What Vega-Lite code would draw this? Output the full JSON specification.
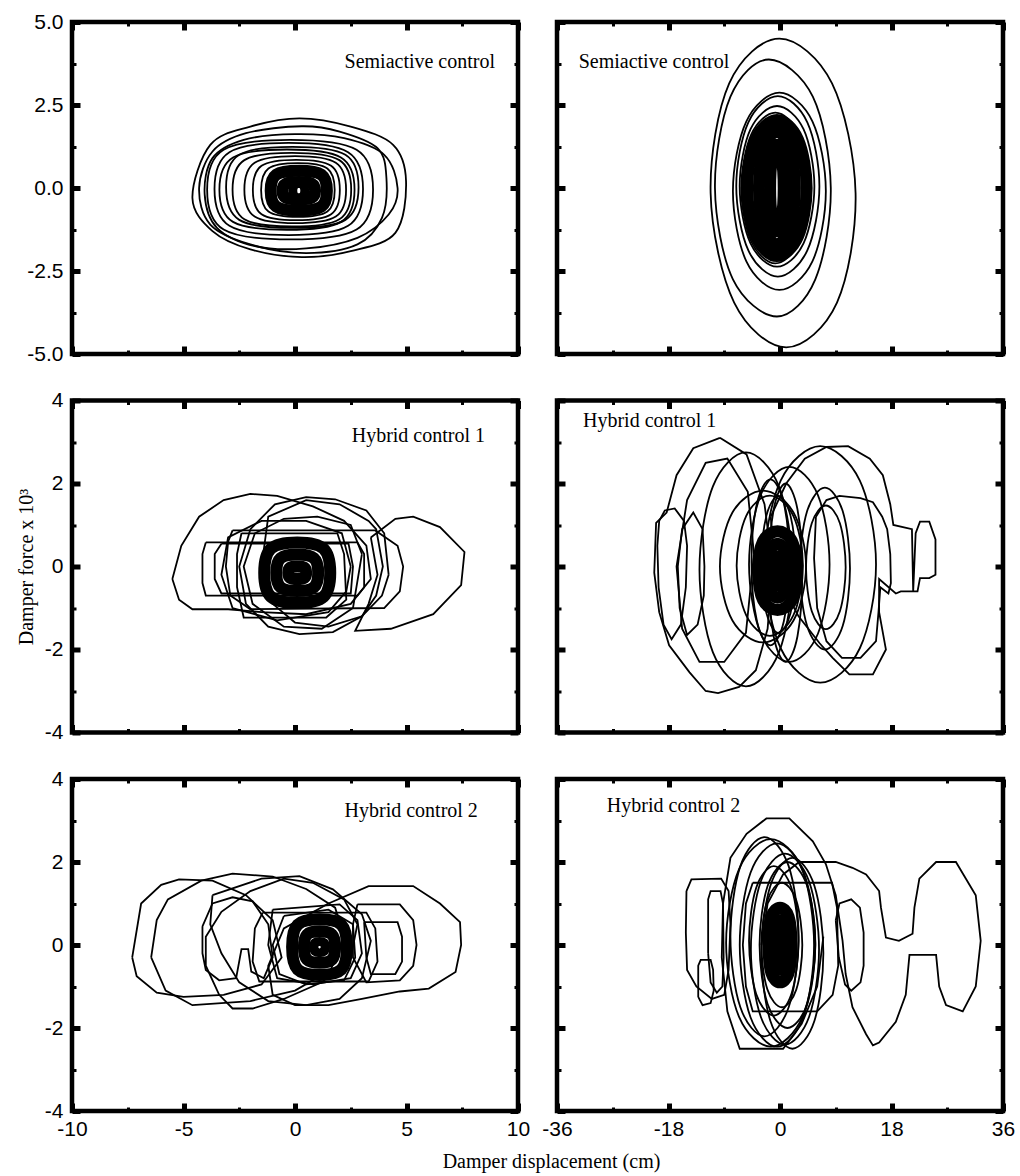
{
"$schema": "https://vega.github.io/schema/vega-lite/v6.json",
"background": "white",
"padding": {"left": 14, "top": 8, "right": 4, "bottom": 4},
"columns": 2,
"spacing": {"row": 46.5, "column": 39},
"bounds": "flush",
"datasets": {
"ell": [
{"p":"A","l":1,"i":0,"x":4.98,"y":0.2},{"p":"A","l":1,"i":1,"x":4.4,"y":1.3},{"p":"A","l":1,"i":2,"x":2.5,"y":1.85},{"p":"A","l":1,"i":3,"x":0.2,"y":2.1},{"p":"A","l":1,"i":4,"x":-2,"y":1.85},{"p":"A","l":1,"i":5,"x":-3.8,"y":1.3},{"p":"A","l":1,"i":6,"x":-4.6,"y":-0.3},{"p":"A","l":1,"i":7,"x":-3.7,"y":-1.3},{"p":"A","l":1,"i":8,"x":-2,"y":-1.85},{"p":"A","l":1,"i":9,"x":0.3,"y":-2.08},{"p":"A","l":1,"i":10,"x":2.5,"y":-1.9},{"p":"A","l":1,"i":11,"x":4.5,"y":-1.35},
{"p":"A","l":2,"i":0,"x":4.1,"y":0.3},{"p":"A","l":2,"i":1,"x":3.7,"y":1.2},{"p":"A","l":2,"i":2,"x":2,"y":1.7},{"p":"A","l":2,"i":3,"x":0.3,"y":1.86},{"p":"A","l":2,"i":4,"x":-2.2,"y":1.65},{"p":"A","l":2,"i":5,"x":-3.7,"y":1.1},{"p":"A","l":2,"i":6,"x":-4.3,"y":0},{"p":"A","l":2,"i":7,"x":-3.8,"y":-1.1},{"p":"A","l":2,"i":8,"x":-2,"y":-1.7},{"p":"A","l":2,"i":9,"x":0.5,"y":-1.96},{"p":"A","l":2,"i":10,"x":2.8,"y":-1.7},{"p":"A","l":2,"i":11,"x":3.9,"y":-0.9},
{"p":"A","l":3,"i":0,"x":4.6,"y":0},{"p":"A","l":3,"i":1,"x":4,"y":1},{"p":"A","l":3,"i":2,"x":2.2,"y":1.5},{"p":"A","l":3,"i":3,"x":0,"y":1.62},{"p":"A","l":3,"i":4,"x":-2.3,"y":1.45},{"p":"A","l":3,"i":5,"x":-3.7,"y":0.9},{"p":"A","l":3,"i":6,"x":-4.05,"y":-0.2},{"p":"A","l":3,"i":7,"x":-3.5,"y":-1.2},{"p":"A","l":3,"i":8,"x":-1.8,"y":-1.75},{"p":"A","l":3,"i":9,"x":0.5,"y":-1.82},{"p":"A","l":3,"i":10,"x":2.8,"y":-1.5},{"p":"A","l":3,"i":11,"x":4.2,"y":-0.8},
{"p":"A","l":4,"i":0,"x":3.05,"y":-0.03},{"p":"A","l":4,"i":1,"x":2.38,"y":1.08},{"p":"A","l":4,"i":2,"x":-0.28,"y":1.36},{"p":"A","l":4,"i":3,"x":-2.94,"y":1.08},{"p":"A","l":4,"i":4,"x":-3.61,"y":-0.03},{"p":"A","l":4,"i":5,"x":-2.94,"y":-1.14},{"p":"A","l":4,"i":6,"x":-0.28,"y":-1.42},{"p":"A","l":4,"i":7,"x":2.38,"y":-1.14},
{"p":"A","l":5,"i":0,"x":2.67,"y":-0.05},{"p":"A","l":5,"i":1,"x":2.06,"y":0.92},{"p":"A","l":5,"i":2,"x":-0.36,"y":1.16},{"p":"A","l":5,"i":3,"x":-2.78,"y":0.92},{"p":"A","l":5,"i":4,"x":-3.39,"y":-0.05},{"p":"A","l":5,"i":5,"x":-2.78,"y":-1.02},{"p":"A","l":5,"i":6,"x":-0.36,"y":-1.26},{"p":"A","l":5,"i":7,"x":2.06,"y":-1.02},
{"p":"A","l":6,"i":0,"x":2.52,"y":-0.05},{"p":"A","l":6,"i":1,"x":1.99,"y":0.84},{"p":"A","l":6,"i":2,"x":-0.14,"y":1.06},{"p":"A","l":6,"i":3,"x":-2.27,"y":0.84},{"p":"A","l":6,"i":4,"x":-2.8,"y":-0.05},{"p":"A","l":6,"i":5,"x":-2.27,"y":-0.94},{"p":"A","l":6,"i":6,"x":-0.14,"y":-1.16},{"p":"A","l":6,"i":7,"x":1.99,"y":-0.94},
{"p":"A","l":7,"i":0,"x":2.29,"y":-0.05},{"p":"A","l":7,"i":1,"x":1.83,"y":0.76},{"p":"A","l":7,"i":2,"x":0.01,"y":0.96},{"p":"A","l":7,"i":3,"x":-1.81,"y":0.76},{"p":"A","l":7,"i":4,"x":-2.27,"y":-0.05},{"p":"A","l":7,"i":5,"x":-1.81,"y":-0.86},{"p":"A","l":7,"i":6,"x":0.01,"y":-1.06},{"p":"A","l":7,"i":7,"x":1.83,"y":-0.86},
{"p":"A","l":8,"i":0,"x":2.01,"y":-0.06},{"p":"A","l":8,"i":1,"x":1.62,"y":0.67},{"p":"A","l":8,"i":2,"x":0.06,"y":0.85},{"p":"A","l":8,"i":3,"x":-1.5,"y":0.67},{"p":"A","l":8,"i":4,"x":-1.89,"y":-0.06},{"p":"A","l":8,"i":5,"x":-1.5,"y":-0.79},{"p":"A","l":8,"i":6,"x":0.06,"y":-0.97},{"p":"A","l":8,"i":7,"x":1.62,"y":-0.79},
{"p":"A","l":9,"i":0,"x":1.78,"y":-0.06},{"p":"A","l":9,"i":1,"x":1.45,"y":0.59},{"p":"A","l":9,"i":2,"x":0.13,"y":0.75},{"p":"A","l":9,"i":3,"x":-1.19,"y":0.59},{"p":"A","l":9,"i":4,"x":-1.52,"y":-0.06},{"p":"A","l":9,"i":5,"x":-1.19,"y":-0.71},{"p":"A","l":9,"i":6,"x":0.13,"y":-0.87},{"p":"A","l":9,"i":7,"x":1.45,"y":-0.71},
{"p":"A","l":10,"i":0,"x":3.5,"y":-0.05},{"p":"A","l":10,"i":1,"x":2.76,"y":1.15},{"p":"A","l":10,"i":2,"x":-0.22,"y":1.45},{"p":"A","l":10,"i":3,"x":-3.2,"y":1.15},{"p":"A","l":10,"i":4,"x":-3.94,"y":-0.05},{"p":"A","l":10,"i":5,"x":-3.2,"y":-1.25},{"p":"A","l":10,"i":6,"x":-0.22,"y":-1.55},{"p":"A","l":10,"i":7,"x":2.76,"y":-1.25},
{"p":"A","l":11,"i":0,"x":2.85,"y":0.02},{"p":"A","l":11,"i":1,"x":2.26,"y":1},{"p":"A","l":11,"i":2,"x":-0.12,"y":1.24},{"p":"A","l":11,"i":3,"x":-2.5,"y":1},{"p":"A","l":11,"i":4,"x":-3.09,"y":0.02},{"p":"A","l":11,"i":5,"x":-2.5,"y":-0.96},{"p":"A","l":11,"i":6,"x":-0.12,"y":-1.2},{"p":"A","l":11,"i":7,"x":2.26,"y":-0.96},
{"p":"B","l":1,"i":0,"x":12.2,"y":-0.15},{"p":"B","l":1,"i":1,"x":8.4,"y":3.15},{"p":"B","l":1,"i":2,"x":-0.1,"y":4.5},{"p":"B","l":1,"i":3,"x":-8.2,"y":3.15},{"p":"B","l":1,"i":4,"x":-11.2,"y":-0.15},{"p":"B","l":1,"i":5,"x":-7.4,"y":-3.45},{"p":"B","l":1,"i":6,"x":1,"y":-4.8},{"p":"B","l":1,"i":7,"x":9.2,"y":-3.45},
{"p":"B","l":2,"i":0,"x":8.2,"y":0},{"p":"B","l":2,"i":1,"x":5.3,"y":2.75},{"p":"B","l":2,"i":2,"x":-1.8,"y":3.87},{"p":"B","l":2,"i":3,"x":-8.0,"y":2.75},{"p":"B","l":2,"i":4,"x":-10.5,"y":0},{"p":"B","l":2,"i":5,"x":-7.6,"y":-2.75},{"p":"B","l":2,"i":6,"x":-0.5,"y":-3.87},{"p":"B","l":2,"i":7,"x":5.7,"y":-2.75},
{"p":"B","l":3,"i":0,"x":7.4,"y":-0.1},{"p":"B","l":3,"i":1,"x":5.23,"y":2.01},{"p":"B","l":3,"i":2,"x":-0.1,"y":2.87},{"p":"B","l":3,"i":3,"x":-5.43,"y":2.01},{"p":"B","l":3,"i":4,"x":-7.6,"y":-0.1},{"p":"B","l":3,"i":5,"x":-5.43,"y":-2.21},{"p":"B","l":3,"i":6,"x":-0.1,"y":-3.07},{"p":"B","l":3,"i":7,"x":5.23,"y":-2.21},
{"p":"B","l":4,"i":0,"x":6.36,"y":0.05},{"p":"B","l":4,"i":1,"x":4.41,"y":1.98},{"p":"B","l":4,"i":2,"x":-0.35,"y":2.77},{"p":"B","l":4,"i":3,"x":-5.11,"y":1.98},{"p":"B","l":4,"i":4,"x":-7.06,"y":0.05},{"p":"B","l":4,"i":5,"x":-5.11,"y":-1.88},{"p":"B","l":4,"i":6,"x":-0.35,"y":-2.67},{"p":"B","l":4,"i":7,"x":4.41,"y":-1.88},
{"p":"B","l":5,"i":0,"x":5.55,"y":0.05},{"p":"B","l":5,"i":1,"x":3.8,"y":1.77},{"p":"B","l":5,"i":2,"x":-0.48,"y":2.47},{"p":"B","l":5,"i":3,"x":-4.76,"y":1.77},{"p":"B","l":5,"i":4,"x":-6.51,"y":0.05},{"p":"B","l":5,"i":5,"x":-4.76,"y":-1.67},{"p":"B","l":5,"i":6,"x":-0.48,"y":-2.37},{"p":"B","l":5,"i":7,"x":3.8,"y":-1.67},
{"p":"B","l":6,"i":0,"x":4.75,"y":0},{"p":"B","l":6,"i":1,"x":3.15,"y":1.61},{"p":"B","l":6,"i":2,"x":-0.75,"y":2.27},{"p":"B","l":6,"i":3,"x":-4.65,"y":1.61},{"p":"B","l":6,"i":4,"x":-6.25,"y":0},{"p":"B","l":6,"i":5,"x":-4.65,"y":-1.61},{"p":"B","l":6,"i":6,"x":-0.75,"y":-2.27},{"p":"B","l":6,"i":7,"x":3.15,"y":-1.61},
{"p":"D","l":5,"i":0,"x":4.2,"y":0},{"p":"D","l":5,"i":1,"x":2.18,"y":1.3},{"p":"D","l":5,"i":2,"x":-2.75,"y":1.83},{"p":"D","l":5,"i":3,"x":-7.68,"y":1.3},{"p":"D","l":5,"i":4,"x":-9.7,"y":0},{"p":"D","l":5,"i":5,"x":-7.68,"y":-1.3},{"p":"D","l":5,"i":6,"x":-2.75,"y":-1.83},{"p":"D","l":5,"i":7,"x":2.18,"y":-1.3},
{"p":"D","l":6,"i":0,"x":3.7,"y":0.02},{"p":"D","l":6,"i":1,"x":2.15,"y":1.22},{"p":"D","l":6,"i":2,"x":-1.65,"y":1.71},{"p":"D","l":6,"i":3,"x":-5.45,"y":1.22},{"p":"D","l":6,"i":4,"x":-7,"y":0.02},{"p":"D","l":6,"i":5,"x":-5.45,"y":-1.18},{"p":"D","l":6,"i":6,"x":-1.65,"y":-1.67},{"p":"D","l":6,"i":7,"x":2.15,"y":-1.18},
{"p":"D","l":7,"i":0,"x":2.5,"y":0.05},{"p":"D","l":7,"i":1,"x":1.7,"y":1.22},{"p":"D","l":7,"i":2,"x":-0.25,"y":1.7},{"p":"D","l":7,"i":3,"x":-2.2,"y":1.22},{"p":"D","l":7,"i":4,"x":-3,"y":0.05},{"p":"D","l":7,"i":5,"x":-2.2,"y":-1.12},{"p":"D","l":7,"i":6,"x":-0.25,"y":-1.6},{"p":"D","l":7,"i":7,"x":1.7,"y":-1.12},
{"p":"D","l":8,"i":0,"x":1.5,"y":0.1},{"p":"D","l":8,"i":1,"x":0.62,"y":1.52},{"p":"D","l":8,"i":2,"x":-1.55,"y":2.1},{"p":"D","l":8,"i":3,"x":-3.72,"y":1.52},{"p":"D","l":8,"i":4,"x":-4.6,"y":0.1},{"p":"D","l":8,"i":5,"x":-3.72,"y":-1.32},{"p":"D","l":8,"i":6,"x":-1.55,"y":-1.9},{"p":"D","l":8,"i":7,"x":0.62,"y":-1.32},
{"p":"D","l":9,"i":0,"x":3.6,"y":-0.15},{"p":"D","l":9,"i":1,"x":2.82,"y":1.38},{"p":"D","l":9,"i":2,"x":0.9,"y":2},{"p":"D","l":9,"i":3,"x":-1.02,"y":1.38},{"p":"D","l":9,"i":4,"x":-1.8,"y":-0.15},{"p":"D","l":9,"i":5,"x":-1.02,"y":-1.68},{"p":"D","l":9,"i":6,"x":0.9,"y":-2.3},{"p":"D","l":9,"i":7,"x":2.82,"y":-1.68},
{"p":"D","l":10,"i":0,"x":10.6,"y":-0.02},{"p":"D","l":10,"i":1,"x":9.67,"y":1.04},{"p":"D","l":10,"i":2,"x":7.4,"y":1.47},{"p":"D","l":10,"i":3,"x":5.13,"y":1.04},{"p":"D","l":10,"i":4,"x":4.2,"y":-0.02},{"p":"D","l":10,"i":5,"x":5.13,"y":-1.08},{"p":"D","l":10,"i":6,"x":7.4,"y":-1.51},{"p":"D","l":10,"i":7,"x":9.67,"y":-1.08},
{"p":"D","l":11,"i":0,"x":11.3,"y":-0.05},{"p":"D","l":11,"i":1,"x":10.13,"y":1.33},{"p":"D","l":11,"i":2,"x":7.25,"y":1.9},{"p":"D","l":11,"i":3,"x":4.37,"y":1.33},{"p":"D","l":11,"i":4,"x":3.2,"y":-0.05},{"p":"D","l":11,"i":5,"x":4.37,"y":-1.43},{"p":"D","l":11,"i":6,"x":7.25,"y":-2},{"p":"D","l":11,"i":7,"x":10.13,"y":-1.43},
{"p":"D","l":12,"i":0,"x":2,"y":-0.07},{"p":"D","l":12,"i":1,"x":-0.17,"y":1.93},{"p":"D","l":12,"i":2,"x":-5.5,"y":2.75},{"p":"D","l":12,"i":3,"x":-10.83,"y":1.93},{"p":"D","l":12,"i":4,"x":-13,"y":-0.07},{"p":"D","l":12,"i":5,"x":-10.83,"y":-2.07},{"p":"D","l":12,"i":6,"x":-5.5,"y":-2.89},{"p":"D","l":12,"i":7,"x":-0.17,"y":-2.07},
{"p":"D","l":13,"i":0,"x":15.5,"y":0.05},{"p":"D","l":13,"i":1,"x":12.89,"y":2.07},{"p":"D","l":13,"i":2,"x":6.5,"y":2.9},{"p":"D","l":13,"i":3,"x":0.11,"y":2.07},{"p":"D","l":13,"i":4,"x":-2.5,"y":0.05},{"p":"D","l":13,"i":5,"x":0.11,"y":-1.97},{"p":"D","l":13,"i":6,"x":6.5,"y":-2.8},{"p":"D","l":13,"i":7,"x":12.89,"y":-1.97},
{"p":"D","l":14,"i":0,"x":8,"y":0.05},{"p":"D","l":14,"i":1,"x":6.12,"y":1.72},{"p":"D","l":14,"i":2,"x":1.5,"y":2.4},{"p":"D","l":14,"i":3,"x":-3.12,"y":1.72},{"p":"D","l":14,"i":4,"x":-5,"y":0.05},{"p":"D","l":14,"i":5,"x":-3.12,"y":-1.62},{"p":"D","l":14,"i":6,"x":1.5,"y":-2.3},{"p":"D","l":14,"i":7,"x":6.12,"y":-1.62},
{"p":"F","l":1,"i":0,"x":5.7,"y":0.05},{"p":"F","l":1,"i":1,"x":3.61,"y":1.83},{"p":"F","l":1,"i":2,"x":-1.5,"y":2.55},{"p":"F","l":1,"i":3,"x":-6.61,"y":1.83},{"p":"F","l":1,"i":4,"x":-8.7,"y":0.05},{"p":"F","l":1,"i":5,"x":-6.61,"y":-1.73},{"p":"F","l":1,"i":6,"x":-1.5,"y":-2.45},{"p":"F","l":1,"i":7,"x":3.61,"y":-1.73},
{"p":"F","l":2,"i":0,"x":5.5,"y":0},{"p":"F","l":2,"i":1,"x":3.76,"y":1.74},{"p":"F","l":2,"i":2,"x":-0.5,"y":2.45},{"p":"F","l":2,"i":3,"x":-4.76,"y":1.74},{"p":"F","l":2,"i":4,"x":-6.5,"y":0},{"p":"F","l":2,"i":5,"x":-4.76,"y":-1.74},{"p":"F","l":2,"i":6,"x":-0.5,"y":-2.45},{"p":"F","l":2,"i":7,"x":3.76,"y":-1.74},
{"p":"F","l":3,"i":0,"x":6.3,"y":-0.1},{"p":"F","l":3,"i":1,"x":4.7,"y":1.53},{"p":"F","l":3,"i":2,"x":0.8,"y":2.2},{"p":"F","l":3,"i":3,"x":-3.1,"y":1.53},{"p":"F","l":3,"i":4,"x":-4.7,"y":-0.1},{"p":"F","l":3,"i":5,"x":-3.1,"y":-1.73},{"p":"F","l":3,"i":6,"x":0.8,"y":-2.4},{"p":"F","l":3,"i":7,"x":4.7,"y":-1.73},
{"p":"F","l":4,"i":0,"x":5.7,"y":0},{"p":"F","l":4,"i":1,"x":4.4,"y":1.42},{"p":"F","l":4,"i":2,"x":1.2,"y":2},{"p":"F","l":4,"i":3,"x":-2,"y":1.42},{"p":"F","l":4,"i":4,"x":-3.3,"y":0},{"p":"F","l":4,"i":5,"x":-2,"y":-1.42},{"p":"F","l":4,"i":6,"x":1.2,"y":-2},{"p":"F","l":4,"i":7,"x":4.4,"y":-1.42},
{"p":"F","l":5,"i":0,"x":3,"y":0.1},{"p":"F","l":5,"i":1,"x":1.84,"y":1.38},{"p":"F","l":5,"i":2,"x":-1,"y":1.9},{"p":"F","l":5,"i":3,"x":-3.84,"y":1.38},{"p":"F","l":5,"i":4,"x":-5,"y":0.1},{"p":"F","l":5,"i":5,"x":-3.84,"y":-1.18},{"p":"F","l":5,"i":6,"x":-1,"y":-1.7},{"p":"F","l":5,"i":7,"x":1.84,"y":-1.18},
{"p":"F","l":6,"i":0,"x":3.6,"y":0},{"p":"F","l":6,"i":1,"x":2.64,"y":1.07},{"p":"F","l":6,"i":2,"x":0.3,"y":1.5},{"p":"F","l":6,"i":3,"x":-2.04,"y":1.07},{"p":"F","l":6,"i":4,"x":-3,"y":0},{"p":"F","l":6,"i":5,"x":-2.04,"y":-1.07},{"p":"F","l":6,"i":6,"x":0.3,"y":-1.5},{"p":"F","l":6,"i":7,"x":2.64,"y":-1.07},
{"p":"F","l":7,"i":0,"x":7,"y":-0.2},{"p":"F","l":7,"i":1,"x":5.55,"y":1.43},{"p":"F","l":7,"i":2,"x":2,"y":2.1},{"p":"F","l":7,"i":3,"x":-1.55,"y":1.43},{"p":"F","l":7,"i":4,"x":-3,"y":-0.2},{"p":"F","l":7,"i":5,"x":-1.55,"y":-1.83},{"p":"F","l":7,"i":6,"x":2,"y":-2.5},{"p":"F","l":7,"i":7,"x":5.55,"y":-1.83},
{"p":"F","l":8,"i":0,"x":3,"y":0.2},{"p":"F","l":8,"i":1,"x":1.4,"y":1.9},{"p":"F","l":8,"i":2,"x":-2.5,"y":2.6},{"p":"F","l":8,"i":3,"x":-6.4,"y":1.9},{"p":"F","l":8,"i":4,"x":-8,"y":0.2},{"p":"F","l":8,"i":5,"x":-6.4,"y":-1.5},{"p":"F","l":8,"i":6,"x":-2.5,"y":-2.2},{"p":"F","l":8,"i":7,"x":1.4,"y":-1.5}
],
"poly": [
{"p":"C","l":1,"i":0,"x":-5.5,"y":-0.3},{"p":"C","l":1,"i":1,"x":-5.1,"y":0.5},{"p":"C","l":1,"i":2,"x":-4.3,"y":1.2},{"p":"C","l":1,"i":3,"x":-3.2,"y":1.6},{"p":"C","l":1,"i":4,"x":-2,"y":1.75},{"p":"C","l":1,"i":5,"x":-0.8,"y":1.7},{"p":"C","l":1,"i":6,"x":0.8,"y":1.45},{"p":"C","l":1,"i":7,"x":2.2,"y":1.1},{"p":"C","l":1,"i":8,"x":3.2,"y":0.5},{"p":"C","l":1,"i":9,"x":3.4,"y":-0.3},{"p":"C","l":1,"i":10,"x":2.5,"y":-0.9},{"p":"C","l":1,"i":11,"x":0.5,"y":-1.15},{"p":"C","l":1,"i":12,"x":-1.5,"y":-1.1},{"p":"C","l":1,"i":13,"x":-3,"y":-1.03},{"p":"C","l":1,"i":14,"x":-4.6,"y":-1.03},{"p":"C","l":1,"i":15,"x":-5.2,"y":-0.8},{"p":"C","l":1,"i":16,"x":-5.5,"y":-0.3},
{"p":"C","l":2,"i":0,"x":4.2,"y":-0.2},{"p":"C","l":2,"i":1,"x":4,"y":0.8},{"p":"C","l":2,"i":2,"x":3.2,"y":1.35},{"p":"C","l":2,"i":3,"x":1.8,"y":1.62},{"p":"C","l":2,"i":4,"x":0.5,"y":1.67},{"p":"C","l":2,"i":5,"x":-0.9,"y":1.5},{"p":"C","l":2,"i":6,"x":-2,"y":0.9},{"p":"C","l":2,"i":7,"x":-2.5,"y":0},{"p":"C","l":2,"i":8,"x":-2.2,"y":-0.9},{"p":"C","l":2,"i":9,"x":-1.2,"y":-1.45},{"p":"C","l":2,"i":10,"x":0.2,"y":-1.63},{"p":"C","l":2,"i":11,"x":1.7,"y":-1.58},{"p":"C","l":2,"i":12,"x":3,"y":-1.2},{"p":"C","l":2,"i":13,"x":3.9,"y":-0.7},{"p":"C","l":2,"i":14,"x":4.2,"y":-0.2},
{"p":"C","l":3,"i":0,"x":-1.5,"y":0},{"p":"C","l":3,"i":1,"x":-1.2,"y":1.2},{"p":"C","l":3,"i":2,"x":0.5,"y":1.6},{"p":"C","l":3,"i":3,"x":2,"y":1.5},{"p":"C","l":3,"i":4,"x":3.3,"y":1.1},{"p":"C","l":3,"i":5,"x":3.64,"y":0.9},{"p":"C","l":3,"i":6,"x":3.94,"y":0},{"p":"C","l":3,"i":7,"x":3.64,"y":-0.7},{"p":"C","l":3,"i":8,"x":3,"y":-1.2},{"p":"C","l":3,"i":9,"x":1.5,"y":-1.45},{"p":"C","l":3,"i":10,"x":0,"y":-1.35},{"p":"C","l":3,"i":11,"x":-1,"y":-0.9},{"p":"C","l":3,"i":12,"x":-1.5,"y":0},
{"p":"C","l":4,"i":0,"x":3.4,"y":0.7},{"p":"C","l":4,"i":1,"x":4.5,"y":1.15},{"p":"C","l":4,"i":2,"x":5.3,"y":1.2},{"p":"C","l":4,"i":3,"x":6.5,"y":0.95},{"p":"C","l":4,"i":4,"x":7.6,"y":0.35},{"p":"C","l":4,"i":5,"x":7.45,"y":-0.45},{"p":"C","l":4,"i":6,"x":6.2,"y":-1.15},{"p":"C","l":4,"i":7,"x":4.3,"y":-1.5},{"p":"C","l":4,"i":8,"x":2.7,"y":-1.55},{"p":"C","l":4,"i":9,"x":3.3,"y":-0.9},{"p":"C","l":4,"i":10,"x":3.7,"y":-0.2},{"p":"C","l":4,"i":11,"x":3.4,"y":0.7},
{"p":"C","l":5,"i":0,"x":-4,"y":0.58},{"p":"C","l":5,"i":1,"x":2.8,"y":0.58},{"p":"C","l":5,"i":2,"x":3.1,"y":0.3},{"p":"C","l":5,"i":3,"x":3.1,"y":-0.5},{"p":"C","l":5,"i":4,"x":2.8,"y":-0.7},{"p":"C","l":5,"i":5,"x":-4,"y":-0.7},{"p":"C","l":5,"i":6,"x":-4.15,"y":-0.4},{"p":"C","l":5,"i":7,"x":-4.15,"y":0.3},{"p":"C","l":5,"i":8,"x":-4,"y":0.58},
{"p":"C","l":6,"i":0,"x":-2.8,"y":0.87},{"p":"C","l":6,"i":1,"x":3.6,"y":0.87},{"p":"C","l":6,"i":2,"x":4.6,"y":0.5},{"p":"C","l":6,"i":3,"x":4.85,"y":0},{"p":"C","l":6,"i":4,"x":4.7,"y":-0.6},{"p":"C","l":6,"i":5,"x":4,"y":-1},{"p":"C","l":6,"i":6,"x":-2,"y":-1.03},{"p":"C","l":6,"i":7,"x":-2.9,"y":-0.7},{"p":"C","l":6,"i":8,"x":-3.1,"y":0},{"p":"C","l":6,"i":9,"x":-3,"y":0.6},{"p":"C","l":6,"i":10,"x":-2.8,"y":0.87},
{"p":"C","l":7,"i":0,"x":-3.3,"y":0.55},{"p":"C","l":7,"i":1,"x":2.4,"y":0.55},{"p":"C","l":7,"i":2,"x":2.6,"y":0},{"p":"C","l":7,"i":3,"x":2.5,"y":-0.65},{"p":"C","l":7,"i":4,"x":-3.3,"y":-0.65},{"p":"C","l":7,"i":5,"x":-3.6,"y":-0.3},{"p":"C","l":7,"i":6,"x":-3.6,"y":0.3},{"p":"C","l":7,"i":7,"x":-3.3,"y":0.55},
{"p":"C","l":8,"i":0,"x":-2.4,"y":0.8},{"p":"C","l":8,"i":1,"x":1.9,"y":0.8},{"p":"C","l":8,"i":2,"x":2.2,"y":0.3},{"p":"C","l":8,"i":3,"x":2.3,"y":-0.8},{"p":"C","l":8,"i":4,"x":1.4,"y":-1.23},{"p":"C","l":8,"i":5,"x":-2.3,"y":-1.23},{"p":"C","l":8,"i":6,"x":-2.6,"y":-0.5},{"p":"C","l":8,"i":7,"x":-2.6,"y":0.3},{"p":"C","l":8,"i":8,"x":-2.4,"y":0.8},
{"p":"C","l":9,"i":0,"x":2.5,"y":0},{"p":"C","l":9,"i":1,"x":2.1,"y":0.8},{"p":"C","l":9,"i":2,"x":0.5,"y":1.1},{"p":"C","l":9,"i":3,"x":-1.5,"y":1.1},{"p":"C","l":9,"i":4,"x":-3,"y":0.7},{"p":"C","l":9,"i":5,"x":-3.3,"y":-0.2},{"p":"C","l":9,"i":6,"x":-2.8,"y":-1},{"p":"C","l":9,"i":7,"x":-0.8,"y":-1.3},{"p":"C","l":9,"i":8,"x":1.5,"y":-1.1},{"p":"C","l":9,"i":9,"x":2.3,"y":-0.6},{"p":"C","l":9,"i":10,"x":2.5,"y":0},
{"p":"C","l":10,"i":0,"x":3,"y":0.3},{"p":"C","l":10,"i":1,"x":2.5,"y":1},{"p":"C","l":10,"i":2,"x":1,"y":1.2},{"p":"C","l":10,"i":3,"x":-0.5,"y":1.15},{"p":"C","l":10,"i":4,"x":-1.8,"y":0.8},{"p":"C","l":10,"i":5,"x":-2.3,"y":0},{"p":"C","l":10,"i":6,"x":-1.9,"y":-0.9},{"p":"C","l":10,"i":7,"x":-0.5,"y":-1.45},{"p":"C","l":10,"i":8,"x":1.2,"y":-1.5},{"p":"C","l":10,"i":9,"x":2.6,"y":-1},{"p":"C","l":10,"i":10,"x":3,"y":0.3},
{"p":"D","l":1,"i":0,"x":-9.7,"y":3.1},{"p":"D","l":1,"i":1,"x":-14,"y":2.85},{"p":"D","l":1,"i":2,"x":-16.7,"y":2.2},{"p":"D","l":1,"i":3,"x":-18.3,"y":1.3},{"p":"D","l":1,"i":4,"x":-20,"y":1.05},{"p":"D","l":1,"i":5,"x":-20.3,"y":-0.15},{"p":"D","l":1,"i":6,"x":-19.5,"y":-1.1},{"p":"D","l":1,"i":7,"x":-17.9,"y":-1.9},{"p":"D","l":1,"i":8,"x":-14.6,"y":-2.55},{"p":"D","l":1,"i":9,"x":-12,"y":-3},{"p":"D","l":1,"i":10,"x":-10,"y":-3.05},{"p":"D","l":1,"i":11,"x":-6.6,"y":-2.9},{"p":"D","l":1,"i":12,"x":-3.9,"y":-2.5},{"p":"D","l":1,"i":13,"x":-2,"y":-1.5},{"p":"D","l":1,"i":14,"x":-1.2,"y":0},{"p":"D","l":1,"i":15,"x":-2.5,"y":1.5},{"p":"D","l":1,"i":16,"x":-5.4,"y":2.7},{"p":"D","l":1,"i":17,"x":-9.7,"y":3.1},
{"p":"D","l":2,"i":0,"x":-4.2,"y":0.3},{"p":"D","l":2,"i":1,"x":-5.2,"y":1.8},{"p":"D","l":2,"i":2,"x":-8.5,"y":2.6},{"p":"D","l":2,"i":3,"x":-12,"y":2.5},{"p":"D","l":2,"i":4,"x":-15,"y":1.6},{"p":"D","l":2,"i":5,"x":-16.7,"y":0},{"p":"D","l":2,"i":6,"x":-15.8,"y":-1.5},{"p":"D","l":2,"i":7,"x":-13,"y":-2.3},{"p":"D","l":2,"i":8,"x":-9,"y":-2.3},{"p":"D","l":2,"i":9,"x":-5.5,"y":-1.6},{"p":"D","l":2,"i":10,"x":-4.2,"y":0.3},
{"p":"D","l":3,"i":0,"x":-19.5,"y":1.1},{"p":"D","l":3,"i":1,"x":-18.6,"y":1.35},{"p":"D","l":3,"i":2,"x":-17,"y":1.4},{"p":"D","l":3,"i":3,"x":-15.5,"y":1.1},{"p":"D","l":3,"i":4,"x":-15,"y":0.5},{"p":"D","l":3,"i":5,"x":-15.2,"y":-0.5},{"p":"D","l":3,"i":6,"x":-16,"y":-1.4},{"p":"D","l":3,"i":7,"x":-17.5,"y":-1.75},{"p":"D","l":3,"i":8,"x":-18.8,"y":-1.4},{"p":"D","l":3,"i":9,"x":-19.6,"y":-0.5},{"p":"D","l":3,"i":10,"x":-19.8,"y":0.5},{"p":"D","l":3,"i":11,"x":-19.5,"y":1.1},
{"p":"D","l":4,"i":0,"x":-12.2,"y":0},{"p":"D","l":4,"i":1,"x":-12.5,"y":0.9},{"p":"D","l":4,"i":2,"x":-14,"y":1.3},{"p":"D","l":4,"i":3,"x":-15.8,"y":0.9},{"p":"D","l":4,"i":4,"x":-16.5,"y":0},{"p":"D","l":4,"i":5,"x":-16.2,"y":-1},{"p":"D","l":4,"i":6,"x":-15,"y":-1.65},{"p":"D","l":4,"i":7,"x":-13.3,"y":-1.4},{"p":"D","l":4,"i":8,"x":-12.3,"y":-0.7},{"p":"D","l":4,"i":9,"x":-12.2,"y":0},
{"p":"D","l":5,"i":0,"x":-1.5,"y":1.2},{"p":"D","l":5,"i":1,"x":1,"y":2},{"p":"D","l":5,"i":2,"x":4,"y":2.6},{"p":"D","l":5,"i":3,"x":7.5,"y":2.88},{"p":"D","l":5,"i":4,"x":11,"y":2.9},{"p":"D","l":5,"i":5,"x":14.5,"y":2.6},{"p":"D","l":5,"i":6,"x":16.6,"y":2.2},{"p":"D","l":5,"i":7,"x":17.8,"y":1.5},{"p":"D","l":5,"i":8,"x":18.3,"y":1},{"p":"D","l":5,"i":9,"x":21.3,"y":0.9},{"p":"D","l":5,"i":10,"x":21.5,"y":-0.6},{"p":"D","l":5,"i":11,"x":21.9,"y":0.8},{"p":"D","l":5,"i":12,"x":22.6,"y":1.08},{"p":"D","l":5,"i":13,"x":24.1,"y":1.08},{"p":"D","l":5,"i":14,"x":25.1,"y":0.65},{"p":"D","l":5,"i":15,"x":25.1,"y":-0.2},{"p":"D","l":5,"i":16,"x":24.1,"y":-0.28},{"p":"D","l":5,"i":17,"x":22.6,"y":-0.28},{"p":"D","l":5,"i":18,"x":22.2,"y":-0.6},{"p":"D","l":5,"i":19,"x":19.5,"y":-0.6},{"p":"D","l":5,"i":20,"x":18.7,"y":-0.65},{"p":"D","l":5,"i":21,"x":16,"y":-0.3},{"p":"D","l":5,"i":22,"x":16,"y":-1.1},{"p":"D","l":5,"i":23,"x":17.1,"y":-2},{"p":"D","l":5,"i":24,"x":15,"y":-2.6},{"p":"D","l":5,"i":25,"x":11.2,"y":-2.6},{"p":"D","l":5,"i":26,"x":8.5,"y":-2.2},{"p":"D","l":5,"i":27,"x":6.4,"y":-1.85},{"p":"D","l":5,"i":28,"x":3,"y":-1.2},{"p":"D","l":5,"i":29,"x":0.5,"y":-0.5},{"p":"D","l":5,"i":30,"x":-1,"y":0.3},{"p":"D","l":5,"i":31,"x":-1.5,"y":1.2},
{"p":"D","l":6,"i":0,"x":5.8,"y":1.2},{"p":"D","l":6,"i":1,"x":7.5,"y":1.6},{"p":"D","l":6,"i":2,"x":9.6,"y":1.7},{"p":"D","l":6,"i":3,"x":13,"y":1.65},{"p":"D","l":6,"i":4,"x":15,"y":1.55},{"p":"D","l":6,"i":5,"x":16.5,"y":1.2},{"p":"D","l":6,"i":6,"x":17.3,"y":0.9},{"p":"D","l":6,"i":7,"x":17.8,"y":0.3},{"p":"D","l":6,"i":8,"x":17.9,"y":-0.4},{"p":"D","l":6,"i":9,"x":17.5,"y":-0.65},{"p":"D","l":6,"i":10,"x":16.2,"y":-0.5},{"p":"D","l":6,"i":11,"x":15.9,"y":-1.1},{"p":"D","l":6,"i":12,"x":15.5,"y":-1.8},{"p":"D","l":6,"i":13,"x":13,"y":-2.2},{"p":"D","l":6,"i":14,"x":10,"y":-2.2},{"p":"D","l":6,"i":15,"x":7.5,"y":-1.8},{"p":"D","l":6,"i":16,"x":6,"y":-1},{"p":"D","l":6,"i":17,"x":5.5,"y":0.2},{"p":"D","l":6,"i":18,"x":5.8,"y":1.2},
{"p":"E","l":1,"i":0,"x":-7.3,"y":-0.3},{"p":"E","l":1,"i":1,"x":-6.9,"y":1},{"p":"E","l":1,"i":2,"x":-6,"y":1.45},{"p":"E","l":1,"i":3,"x":-5.2,"y":1.58},{"p":"E","l":1,"i":4,"x":-3.7,"y":1.55},{"p":"E","l":1,"i":5,"x":-2.2,"y":1.2},{"p":"E","l":1,"i":6,"x":-1,"y":0.6},{"p":"E","l":1,"i":7,"x":-0.6,"y":-0.3},{"p":"E","l":1,"i":8,"x":-1.5,"y":-0.95},{"p":"E","l":1,"i":9,"x":-3.2,"y":-1.2},{"p":"E","l":1,"i":10,"x":-5,"y":-1.25},{"p":"E","l":1,"i":11,"x":-6.2,"y":-1.15},{"p":"E","l":1,"i":12,"x":-7.1,"y":-0.75},{"p":"E","l":1,"i":13,"x":-7.3,"y":-0.3},
{"p":"E","l":2,"i":0,"x":-6.45,"y":-0.3},{"p":"E","l":2,"i":1,"x":-6.2,"y":0.6},{"p":"E","l":2,"i":2,"x":-5.7,"y":1.1},{"p":"E","l":2,"i":3,"x":-4.2,"y":1.55},{"p":"E","l":2,"i":4,"x":-2.8,"y":1.72},{"p":"E","l":2,"i":5,"x":-1,"y":1.65},{"p":"E","l":2,"i":6,"x":0.5,"y":1.35},{"p":"E","l":2,"i":7,"x":1.8,"y":0.9},{"p":"E","l":2,"i":8,"x":2.2,"y":0.2},{"p":"E","l":2,"i":9,"x":1.6,"y":-0.6},{"p":"E","l":2,"i":10,"x":0,"y":-1.1},{"p":"E","l":2,"i":11,"x":-2,"y":-1.35},{"p":"E","l":2,"i":12,"x":-4.6,"y":-1.45},{"p":"E","l":2,"i":13,"x":-5.8,"y":-1.1},{"p":"E","l":2,"i":14,"x":-6.45,"y":-0.3},
{"p":"E","l":3,"i":0,"x":-4.15,"y":0.45},{"p":"E","l":3,"i":1,"x":-3.7,"y":1},{"p":"E","l":3,"i":2,"x":-2.8,"y":1.15},{"p":"E","l":3,"i":3,"x":-1.9,"y":1.05},{"p":"E","l":3,"i":4,"x":-1.2,"y":0.5},{"p":"E","l":3,"i":5,"x":-1,"y":-0.3},{"p":"E","l":3,"i":6,"x":-1.4,"y":-0.8},{"p":"E","l":3,"i":7,"x":-1.96,"y":-0.64},{"p":"E","l":3,"i":8,"x":-2.1,"y":-0.1},{"p":"E","l":3,"i":9,"x":-2.4,"y":-0.1},{"p":"E","l":3,"i":10,"x":-2.64,"y":-0.8},{"p":"E","l":3,"i":11,"x":-3.4,"y":-0.85},{"p":"E","l":3,"i":12,"x":-4,"y":-0.6},{"p":"E","l":3,"i":13,"x":-4.15,"y":-0.2},{"p":"E","l":3,"i":14,"x":-4.15,"y":0.45},
{"p":"E","l":4,"i":0,"x":-4,"y":-0.5},{"p":"E","l":4,"i":1,"x":-3.4,"y":-1.2},{"p":"E","l":4,"i":2,"x":-2.8,"y":-1.53},{"p":"E","l":4,"i":3,"x":-1.9,"y":-1.53},{"p":"E","l":4,"i":4,"x":-0.5,"y":-1.3},{"p":"E","l":4,"i":5,"x":1.2,"y":-0.9},{"p":"E","l":4,"i":6,"x":2.5,"y":-0.3},{"p":"E","l":4,"i":7,"x":2.8,"y":0.5},{"p":"E","l":4,"i":8,"x":2.2,"y":1.1},{"p":"E","l":4,"i":9,"x":0.8,"y":1.5},{"p":"E","l":4,"i":10,"x":-0.5,"y":1.6},{"p":"E","l":4,"i":11,"x":-2,"y":1.3},{"p":"E","l":4,"i":12,"x":-3.3,"y":0.8},{"p":"E","l":4,"i":13,"x":-4,"y":0.2},{"p":"E","l":4,"i":14,"x":-4,"y":-0.5},
{"p":"E","l":5,"i":0,"x":-3.7,"y":1.2},{"p":"E","l":5,"i":1,"x":-1.5,"y":1.6},{"p":"E","l":5,"i":2,"x":0.2,"y":1.66},{"p":"E","l":5,"i":3,"x":1.7,"y":1.34},{"p":"E","l":5,"i":4,"x":3,"y":0.74},{"p":"E","l":5,"i":5,"x":3.4,"y":0.1},{"p":"E","l":5,"i":6,"x":3,"y":-0.8},{"p":"E","l":5,"i":7,"x":2,"y":-1.3},{"p":"E","l":5,"i":8,"x":0.5,"y":-1.45},{"p":"E","l":5,"i":9,"x":-1.2,"y":-1.35},{"p":"E","l":5,"i":10,"x":-2.5,"y":-0.9},{"p":"E","l":5,"i":11,"x":-3.3,"y":-0.2},{"p":"E","l":5,"i":12,"x":-3.8,"y":0.5},{"p":"E","l":5,"i":13,"x":-3.7,"y":1.2},
{"p":"E","l":6,"i":0,"x":1.5,"y":1},{"p":"E","l":6,"i":1,"x":3.3,"y":1.42},{"p":"E","l":6,"i":2,"x":5.3,"y":1.42},{"p":"E","l":6,"i":3,"x":6.5,"y":1},{"p":"E","l":6,"i":4,"x":7.4,"y":0.55},{"p":"E","l":6,"i":5,"x":7.45,"y":0},{"p":"E","l":6,"i":6,"x":7.2,"y":-0.65},{"p":"E","l":6,"i":7,"x":6,"y":-1.05},{"p":"E","l":6,"i":8,"x":4.7,"y":-1.12},{"p":"E","l":6,"i":9,"x":3,"y":-1.3},{"p":"E","l":6,"i":10,"x":1.5,"y":-1.45},{"p":"E","l":6,"i":11,"x":0,"y":-1.45},{"p":"E","l":6,"i":12,"x":-1,"y":-1.2},{"p":"E","l":6,"i":13,"x":-1.2,"y":-0.5},{"p":"E","l":6,"i":14,"x":-0.5,"y":0.4},{"p":"E","l":6,"i":15,"x":1.5,"y":1},
{"p":"E","l":7,"i":0,"x":2.8,"y":0.98},{"p":"E","l":7,"i":1,"x":4.7,"y":0.98},{"p":"E","l":7,"i":2,"x":5.3,"y":0.6},{"p":"E","l":7,"i":3,"x":5.45,"y":0},{"p":"E","l":7,"i":4,"x":5.3,"y":-0.5},{"p":"E","l":7,"i":5,"x":4.7,"y":-0.85},{"p":"E","l":7,"i":6,"x":3.2,"y":-0.9},{"p":"E","l":7,"i":7,"x":2.6,"y":-0.3},{"p":"E","l":7,"i":8,"x":2.6,"y":0.5},{"p":"E","l":7,"i":9,"x":2.8,"y":0.98},
{"p":"E","l":8,"i":0,"x":-1.45,"y":0.78},{"p":"E","l":8,"i":1,"x":3.2,"y":0.78},{"p":"E","l":8,"i":2,"x":3.6,"y":0.4},{"p":"E","l":8,"i":3,"x":3.7,"y":-0.4},{"p":"E","l":8,"i":4,"x":3.3,"y":-0.88},{"p":"E","l":8,"i":5,"x":-1.6,"y":-0.88},{"p":"E","l":8,"i":6,"x":-1.9,"y":-0.4},{"p":"E","l":8,"i":7,"x":-1.8,"y":0.4},{"p":"E","l":8,"i":8,"x":-1.45,"y":0.78},
{"p":"E","l":9,"i":0,"x":-1,"y":0.85},{"p":"E","l":9,"i":1,"x":2,"y":0.98},{"p":"E","l":9,"i":2,"x":2.8,"y":0.6},{"p":"E","l":9,"i":3,"x":3,"y":-0.2},{"p":"E","l":9,"i":4,"x":2.5,"y":-0.8},{"p":"E","l":9,"i":5,"x":0.8,"y":-0.95},{"p":"E","l":9,"i":6,"x":-0.8,"y":-0.8},{"p":"E","l":9,"i":7,"x":-1.2,"y":0},{"p":"E","l":9,"i":8,"x":-1,"y":0.85},
{"p":"E","l":10,"i":0,"x":3.1,"y":0.55},{"p":"E","l":10,"i":1,"x":4.6,"y":0.55},{"p":"E","l":10,"i":2,"x":4.8,"y":0.2},{"p":"E","l":10,"i":3,"x":4.8,"y":-0.4},{"p":"E","l":10,"i":4,"x":4.5,"y":-0.7},{"p":"E","l":10,"i":5,"x":3.4,"y":-0.7},{"p":"E","l":10,"i":6,"x":3.2,"y":-0.3},{"p":"E","l":10,"i":7,"x":3.1,"y":0.55},
{"p":"E","l":11,"i":0,"x":-0.5,"y":0.7},{"p":"E","l":11,"i":1,"x":1.5,"y":0.85},{"p":"E","l":11,"i":2,"x":2.6,"y":0.5},{"p":"E","l":11,"i":3,"x":2.7,"y":-0.3},{"p":"E","l":11,"i":4,"x":2.2,"y":-0.85},{"p":"E","l":11,"i":5,"x":0.5,"y":-0.95},{"p":"E","l":11,"i":6,"x":-0.7,"y":-0.7},{"p":"E","l":11,"i":7,"x":-1,"y":0},{"p":"E","l":11,"i":8,"x":-0.5,"y":0.7},
{"p":"F","l":1,"i":0,"x":7,"y":0.2},{"p":"F","l":1,"i":1,"x":6,"y":-1},{"p":"F","l":1,"i":2,"x":3.5,"y":-1.9},{"p":"F","l":1,"i":3,"x":0.5,"y":-2.5},{"p":"F","l":1,"i":4,"x":-6.5,"y":-2.5},{"p":"F","l":1,"i":5,"x":-8.5,"y":-1.6},{"p":"F","l":1,"i":6,"x":-9.4,"y":-0.3},{"p":"F","l":1,"i":7,"x":-9.2,"y":1},{"p":"F","l":1,"i":8,"x":-8,"y":2.1},{"p":"F","l":1,"i":9,"x":-5.4,"y":2.68},{"p":"F","l":1,"i":10,"x":-2.2,"y":3.05},{"p":"F","l":1,"i":11,"x":1.5,"y":3.05},{"p":"F","l":1,"i":12,"x":5.3,"y":2.5},{"p":"F","l":1,"i":13,"x":7.4,"y":1.95},{"p":"F","l":1,"i":14,"x":9,"y":1.2},{"p":"F","l":1,"i":15,"x":10.1,"y":0.1},{"p":"F","l":1,"i":16,"x":10.6,"y":-0.7},{"p":"F","l":1,"i":17,"x":11.7,"y":-1.5},{"p":"F","l":1,"i":18,"x":13.9,"y":-2.15},{"p":"F","l":1,"i":19,"x":15,"y":-2.42},{"p":"F","l":1,"i":20,"x":16,"y":-2.35},{"p":"F","l":1,"i":21,"x":18.7,"y":-1.85},{"p":"F","l":1,"i":22,"x":20.3,"y":-1.2},{"p":"F","l":1,"i":23,"x":20.9,"y":-0.24},{"p":"F","l":1,"i":24,"x":25.2,"y":-0.24},{"p":"F","l":1,"i":25,"x":25.7,"y":-1},{"p":"F","l":1,"i":26,"x":26.8,"y":-1.45},{"p":"F","l":1,"i":27,"x":29.5,"y":-1.6},{"p":"F","l":1,"i":28,"x":31.6,"y":-1},{"p":"F","l":1,"i":29,"x":32.4,"y":0.1},{"p":"F","l":1,"i":30,"x":31.6,"y":1.2},{"p":"F","l":1,"i":31,"x":28.4,"y":2},{"p":"F","l":1,"i":32,"x":25.2,"y":2},{"p":"F","l":1,"i":33,"x":22.5,"y":1.6},{"p":"F","l":1,"i":34,"x":21.7,"y":0.9},{"p":"F","l":1,"i":35,"x":21.4,"y":0.27},{"p":"F","l":1,"i":36,"x":19.2,"y":0.1},{"p":"F","l":1,"i":37,"x":17.1,"y":0.18},{"p":"F","l":1,"i":38,"x":16.3,"y":0.9},{"p":"F","l":1,"i":39,"x":16,"y":1.3},{"p":"F","l":1,"i":40,"x":13.9,"y":1.7},{"p":"F","l":1,"i":41,"x":11.7,"y":1.86},{"p":"F","l":1,"i":42,"x":9,"y":2},{"p":"F","l":1,"i":43,"x":3.1,"y":2},{"p":"F","l":1,"i":44,"x":0.5,"y":1.7},{"p":"F","l":1,"i":45,"x":-2,"y":1},{"p":"F","l":1,"i":46,"x":-3,"y":0},
{"p":"F","l":2,"i":0,"x":-15.1,"y":1.3},{"p":"F","l":2,"i":1,"x":-14.3,"y":1.58},{"p":"F","l":2,"i":2,"x":-9.5,"y":1.6},{"p":"F","l":2,"i":3,"x":-8.3,"y":1.3},{"p":"F","l":2,"i":4,"x":-8,"y":0.5},{"p":"F","l":2,"i":5,"x":-8.3,"y":-0.6},{"p":"F","l":2,"i":6,"x":-9,"y":-1.2},{"p":"F","l":2,"i":7,"x":-11,"y":-1.3},{"p":"F","l":2,"i":8,"x":-13.5,"y":-1},{"p":"F","l":2,"i":9,"x":-15,"y":-0.6},{"p":"F","l":2,"i":10,"x":-15.2,"y":0.3},{"p":"F","l":2,"i":11,"x":-15.1,"y":1.3},
{"p":"F","l":3,"i":0,"x":-11.6,"y":-0.2},{"p":"F","l":3,"i":1,"x":-11.6,"y":1.1},{"p":"F","l":3,"i":2,"x":-11.2,"y":1.3},{"p":"F","l":3,"i":3,"x":-9.6,"y":1.3},{"p":"F","l":3,"i":4,"x":-9.2,"y":1},{"p":"F","l":3,"i":5,"x":-9.1,"y":-0.3},{"p":"F","l":3,"i":6,"x":-9.3,"y":-1},{"p":"F","l":3,"i":7,"x":-10.2,"y":-1.15},{"p":"F","l":3,"i":8,"x":-11.2,"y":-0.9},{"p":"F","l":3,"i":9,"x":-11.6,"y":-0.2},
{"p":"F","l":4,"i":0,"x":-13.2,"y":-1.25},{"p":"F","l":4,"i":1,"x":-13.2,"y":-0.5},{"p":"F","l":4,"i":2,"x":-12.8,"y":-0.36},{"p":"F","l":4,"i":3,"x":-11.2,"y":-0.36},{"p":"F","l":4,"i":4,"x":-10.8,"y":-0.6},{"p":"F","l":4,"i":5,"x":-10.7,"y":-1.1},{"p":"F","l":4,"i":6,"x":-11.2,"y":-1.4},{"p":"F","l":4,"i":7,"x":-12.5,"y":-1.45},{"p":"F","l":4,"i":8,"x":-13.2,"y":-1.25},
{"p":"F","l":5,"i":0,"x":9,"y":0.6},{"p":"F","l":5,"i":1,"x":9.6,"y":1},{"p":"F","l":5,"i":2,"x":11.5,"y":1.1},{"p":"F","l":5,"i":3,"x":12.9,"y":0.9},{"p":"F","l":5,"i":4,"x":13.5,"y":0.3},{"p":"F","l":5,"i":5,"x":13.5,"y":-0.5},{"p":"F","l":5,"i":6,"x":13,"y":-0.9},{"p":"F","l":5,"i":7,"x":11.5,"y":-1.1},{"p":"F","l":5,"i":8,"x":10.5,"y":-0.95},{"p":"F","l":5,"i":9,"x":9.5,"y":-0.3},{"p":"F","l":5,"i":10,"x":9,"y":0.6},
{"p":"F","l":6,"i":0,"x":-4.4,"y":1.5},{"p":"F","l":6,"i":1,"x":8.4,"y":1.5},{"p":"F","l":6,"i":2,"x":9.2,"y":0.9},{"p":"F","l":6,"i":3,"x":9.4,"y":-0.5},{"p":"F","l":6,"i":4,"x":8.5,"y":-1.2},{"p":"F","l":6,"i":5,"x":6,"y":-1.6},{"p":"F","l":6,"i":6,"x":-4.4,"y":-1.6},{"p":"F","l":6,"i":7,"x":-5.5,"y":-1},{"p":"F","l":6,"i":8,"x":-6,"y":0},{"p":"F","l":6,"i":9,"x":-5.5,"y":1},{"p":"F","l":6,"i":10,"x":-4.4,"y":1.5}
],
"core": [
{"p":"A","l":1,"i":0,"x":1.43,"y":-0.08},{"p":"A","l":1,"i":1,"x":1.18,"y":0.4},{"p":"A","l":1,"i":2,"x":0.17,"y":0.52},{"p":"A","l":1,"i":3,"x":-0.84,"y":0.4},{"p":"A","l":1,"i":4,"x":-1.09,"y":-0.08},{"p":"A","l":1,"i":5,"x":-0.84,"y":-0.56},{"p":"A","l":1,"i":6,"x":0.17,"y":-0.68},{"p":"A","l":1,"i":7,"x":1.18,"y":-0.56},
{"p":"A","l":2,"i":0,"x":0.9,"y":-0.08},{"p":"A","l":2,"i":1,"x":0.75,"y":0.13},{"p":"A","l":2,"i":2,"x":0.17,"y":0.18},{"p":"A","l":2,"i":3,"x":-0.41,"y":0.13},{"p":"A","l":2,"i":4,"x":-0.56,"y":-0.08},{"p":"A","l":2,"i":5,"x":-0.41,"y":-0.29},{"p":"A","l":2,"i":6,"x":0.17,"y":-0.34},{"p":"A","l":2,"i":7,"x":0.75,"y":-0.29},
{"p":"A","l":3,"i":0,"x":0.37,"y":-0.08},{"p":"A","l":3,"i":1,"x":0.33,"y":-0.04},{"p":"A","l":3,"i":2,"x":0.17,"y":-0.03},{"p":"A","l":3,"i":3,"x":0.01,"y":-0.04},{"p":"A","l":3,"i":4,"x":-0.03,"y":-0.08},{"p":"A","l":3,"i":5,"x":0.01,"y":-0.12},{"p":"A","l":3,"i":6,"x":0.17,"y":-0.13},{"p":"A","l":3,"i":7,"x":0.33,"y":-0.12},
{"p":"B","l":1,"i":0,"x":4.3,"y":0},{"p":"B","l":1,"i":1,"x":2.91,"y":1.46},{"p":"B","l":1,"i":2,"x":-0.5,"y":2.05},{"p":"B","l":1,"i":3,"x":-3.91,"y":1.46},{"p":"B","l":1,"i":4,"x":-5.3,"y":0},{"p":"B","l":1,"i":5,"x":-3.91,"y":-1.46},{"p":"B","l":1,"i":6,"x":-0.5,"y":-2.05},{"p":"B","l":1,"i":7,"x":2.91,"y":-1.46},
{"p":"B","l":2,"i":0,"x":2.4,"y":0},{"p":"B","l":2,"i":1,"x":1.56,"y":1.21},{"p":"B","l":2,"i":2,"x":-0.5,"y":1.7},{"p":"B","l":2,"i":3,"x":-2.56,"y":1.21},{"p":"B","l":2,"i":4,"x":-3.4,"y":0},{"p":"B","l":2,"i":5,"x":-2.56,"y":-1.21},{"p":"B","l":2,"i":6,"x":-0.5,"y":-1.7},{"p":"B","l":2,"i":7,"x":1.56,"y":-1.21},
{"p":"B","l":3,"i":0,"x":0.6,"y":0},{"p":"B","l":3,"i":1,"x":0.28,"y":0.92},{"p":"B","l":3,"i":2,"x":-0.5,"y":1.3},{"p":"B","l":3,"i":3,"x":-1.28,"y":0.92},{"p":"B","l":3,"i":4,"x":-1.6,"y":0},{"p":"B","l":3,"i":5,"x":-1.28,"y":-0.92},{"p":"B","l":3,"i":6,"x":-0.5,"y":-1.3},{"p":"B","l":3,"i":7,"x":0.28,"y":-0.92},
{"p":"C","l":1,"i":0,"x":1.58,"y":-0.15},{"p":"C","l":1,"i":1,"x":1.28,"y":0.43},{"p":"C","l":1,"i":2,"x":0.1,"y":0.58},{"p":"C","l":1,"i":3,"x":-1.08,"y":0.43},{"p":"C","l":1,"i":4,"x":-1.38,"y":-0.15},{"p":"C","l":1,"i":5,"x":-1.08,"y":-0.73},{"p":"C","l":1,"i":6,"x":0.1,"y":-0.88},{"p":"C","l":1,"i":7,"x":1.28,"y":-0.73},
{"p":"C","l":2,"i":0,"x":1.04,"y":-0.15},{"p":"C","l":2,"i":1,"x":0.85,"y":0.2},{"p":"C","l":2,"i":2,"x":0.1,"y":0.29},{"p":"C","l":2,"i":3,"x":-0.65,"y":0.2},{"p":"C","l":2,"i":4,"x":-0.84,"y":-0.15},{"p":"C","l":2,"i":5,"x":-0.65,"y":-0.5},{"p":"C","l":2,"i":6,"x":0.1,"y":-0.59},{"p":"C","l":2,"i":7,"x":0.85,"y":-0.5},
{"p":"C","l":3,"i":0,"x":0.5,"y":-0.15},{"p":"C","l":3,"i":1,"x":0.42,"y":-0.03},{"p":"C","l":3,"i":2,"x":0.1,"y":0},{"p":"C","l":3,"i":3,"x":-0.22,"y":-0.03},{"p":"C","l":3,"i":4,"x":-0.3,"y":-0.15},{"p":"C","l":3,"i":5,"x":-0.22,"y":-0.27},{"p":"C","l":3,"i":6,"x":0.1,"y":-0.3},{"p":"C","l":3,"i":7,"x":0.42,"y":-0.27},
{"p":"D","l":1,"i":0,"x":2.7,"y":-0.1},{"p":"D","l":1,"i":1,"x":1.93,"y":0.61},{"p":"D","l":1,"i":2,"x":-0.4,"y":0.85},{"p":"D","l":1,"i":3,"x":-2.73,"y":0.61},{"p":"D","l":1,"i":4,"x":-3.5,"y":-0.1},{"p":"D","l":1,"i":5,"x":-2.73,"y":-0.81},{"p":"D","l":1,"i":6,"x":-0.4,"y":-1.05},{"p":"D","l":1,"i":7,"x":1.93,"y":-0.81},
{"p":"D","l":2,"i":0,"x":1.1,"y":-0.1},{"p":"D","l":2,"i":1,"x":0.73,"y":0.39},{"p":"D","l":2,"i":2,"x":-0.4,"y":0.55},{"p":"D","l":2,"i":3,"x":-1.53,"y":0.39},{"p":"D","l":2,"i":4,"x":-1.9,"y":-0.1},{"p":"D","l":2,"i":5,"x":-1.53,"y":-0.59},{"p":"D","l":2,"i":6,"x":-0.4,"y":-0.75},{"p":"D","l":2,"i":7,"x":0.73,"y":-0.59},
{"p":"D","l":3,"i":0,"x":0,"y":-0.1},{"p":"D","l":3,"i":1,"x":-0.1,"y":0.16},{"p":"D","l":3,"i":2,"x":-0.4,"y":0.25},{"p":"D","l":3,"i":3,"x":-0.7,"y":0.16},{"p":"D","l":3,"i":4,"x":-0.8,"y":-0.1},{"p":"D","l":3,"i":5,"x":-0.7,"y":-0.36},{"p":"D","l":3,"i":6,"x":-0.4,"y":-0.45},{"p":"D","l":3,"i":7,"x":-0.1,"y":-0.36},
{"p":"E","l":1,"i":0,"x":2.33,"y":-0.05},{"p":"E","l":1,"i":1,"x":2.08,"y":0.49},{"p":"E","l":1,"i":2,"x":1.1,"y":0.62},{"p":"E","l":1,"i":3,"x":0.12,"y":0.49},{"p":"E","l":1,"i":4,"x":-0.13,"y":-0.05},{"p":"E","l":1,"i":5,"x":0.12,"y":-0.59},{"p":"E","l":1,"i":6,"x":1.1,"y":-0.72},{"p":"E","l":1,"i":7,"x":2.08,"y":-0.59},
{"p":"E","l":2,"i":0,"x":1.8,"y":-0.05},{"p":"E","l":2,"i":1,"x":1.66,"y":0.25},{"p":"E","l":2,"i":2,"x":1.1,"y":0.33},{"p":"E","l":2,"i":3,"x":0.54,"y":0.25},{"p":"E","l":2,"i":4,"x":0.4,"y":-0.05},{"p":"E","l":2,"i":5,"x":0.54,"y":-0.35},{"p":"E","l":2,"i":6,"x":1.1,"y":-0.43},{"p":"E","l":2,"i":7,"x":1.66,"y":-0.35},
{"p":"E","l":3,"i":0,"x":1.3,"y":-0.05},{"p":"E","l":3,"i":1,"x":1.26,"y":0.03},{"p":"E","l":3,"i":2,"x":1.1,"y":0.05},{"p":"E","l":3,"i":3,"x":0.94,"y":0.03},{"p":"E","l":3,"i":4,"x":0.9,"y":-0.05},{"p":"E","l":3,"i":5,"x":0.94,"y":-0.13},{"p":"E","l":3,"i":6,"x":1.1,"y":-0.15},{"p":"E","l":3,"i":7,"x":1.26,"y":-0.13},
{"p":"F","l":1,"i":0,"x":1.85,"y":0},{"p":"F","l":1,"i":1,"x":1.39,"y":0.68},{"p":"F","l":1,"i":2,"x":0,"y":0.9},{"p":"F","l":1,"i":3,"x":-1.39,"y":0.68},{"p":"F","l":1,"i":4,"x":-1.85,"y":0},{"p":"F","l":1,"i":5,"x":-1.39,"y":-0.68},{"p":"F","l":1,"i":6,"x":0,"y":-0.9},{"p":"F","l":1,"i":7,"x":1.39,"y":-0.68},
{"p":"F","l":2,"i":0,"x":1,"y":0},{"p":"F","l":2,"i":1,"x":0.75,"y":0.45},{"p":"F","l":2,"i":2,"x":0,"y":0.6},{"p":"F","l":2,"i":3,"x":-0.75,"y":0.45},{"p":"F","l":2,"i":4,"x":-1,"y":0},{"p":"F","l":2,"i":5,"x":-0.75,"y":-0.45},{"p":"F","l":2,"i":6,"x":0,"y":-0.6},{"p":"F","l":2,"i":7,"x":0.75,"y":-0.45},
{"p":"F","l":3,"i":0,"x":0.2,"y":0},{"p":"F","l":3,"i":1,"x":0.15,"y":0.22},{"p":"F","l":3,"i":2,"x":0,"y":0.3},{"p":"F","l":3,"i":3,"x":-0.15,"y":0.22},{"p":"F","l":3,"i":4,"x":-0.2,"y":0},{"p":"F","l":3,"i":5,"x":-0.15,"y":-0.22},{"p":"F","l":3,"i":6,"x":0,"y":-0.3},{"p":"F","l":3,"i":7,"x":0.15,"y":-0.22}
],
"lab": [
{"p":"A","x":8.97,"y":3.6,"t":"Semiactive control"},
{"p":"B","x":-32.5,"y":3.6,"t":"Semiactive control"},
{"p":"C","x":8.52,"y":3.0,"t":"Hybrid control 1"},
{"p":"D","x":-31.8,"y":3.35,"t":"Hybrid control 1"},
{"p":"E","x":8.2,"y":3.08,"t":"Hybrid control 2"},
{"p":"F","x":-27.95,"y":3.2,"t":"Hybrid control 2"}
]
},
"concat": [
{"width":446,"height":332,
 "layer":[
  {"data":{"name":"ell"},"transform":[{"filter":"datum.p==='A'"}],"mark":{"type":"line","interpolate":"cardinal-closed","color":"black","strokeWidth":1.8},
   "encoding":{"x":{"field":"x","type":"quantitative","scale":{"domain":[-10,10],"nice":false,"zero":false},"axis":null},"y":{"field":"y","type":"quantitative","scale":{"domain":[-5,5],"nice":false,"zero":false},"axis":null},"detail":{"field":"l"},"order":{"field":"i","type":"quantitative"}}},
  {"data":{"name":"core"},"transform":[{"filter":"datum.p==='A'"}],"mark":{"type":"line","interpolate":"cardinal-closed","color":"black","strokeWidth":12},
   "encoding":{"x":{"field":"x","type":"quantitative","scale":{"domain":[-10,10],"nice":false,"zero":false},"axis":{"orient":"bottom","values":[-10,-7.5,-5,-2.5,0,2.5,5,7.5,10],"labels":false,"title":null,"tickSize":{"condition":{"test":"datum.value % 5 === 0","value":-8},"value":-4},"tickWidth":{"condition":{"test":"datum.value % 5 === 0","value":5},"value":3}}},
    "y":{"field":"y","type":"quantitative","scale":{"domain":[-5,5],"nice":false,"zero":false},"axis":{"orient":"left","values":[-5,-3.75,-2.5,-1.25,0,1.25,2.5,3.75,5],"labelExpr":"datum.value % 2.5 === 0 ? replace(format(datum.value, '.1f'), '\u2212', '-') : ''","labelPadding":17,"title":null,"tickSize":{"condition":{"test":"datum.value % 2.5 === 0","value":-8},"value":-4},"tickWidth":{"condition":{"test":"datum.value % 2.5 === 0","value":5},"value":3}}},
    "detail":{"field":"l"},"order":{"field":"i","type":"quantitative"}}},
  {"data":{"name":"lab"},"transform":[{"filter":"datum.p==='A'"}],"mark":{"type":"text","align":"right","baseline":"alphabetic","font":"Liberation Serif","fontSize":20,"color":"black"},
   "encoding":{"x":{"field":"x","type":"quantitative","scale":{"domain":[-10,10],"nice":false,"zero":false},"axis":{"orient":"top","values":[-10,-7.5,-5,-2.5,0,2.5,5,7.5,10],"labels":false,"title":null,"tickSize":{"condition":{"test":"datum.value % 5 === 0","value":-8},"value":-4},"tickWidth":{"condition":{"test":"datum.value % 5 === 0","value":5},"value":3}}},
    "y":{"field":"y","type":"quantitative","scale":{"domain":[-5,5],"nice":false,"zero":false},"axis":{"orient":"right","values":[-5,-3.75,-2.5,-1.25,0,1.25,2.5,3.75,5],"labels":false,"title":null,"tickSize":{"condition":{"test":"datum.value % 2.5 === 0","value":-8},"value":-4},"tickWidth":{"condition":{"test":"datum.value % 2.5 === 0","value":5},"value":3}}},
    "text":{"field":"t"}}}
 ],
 "resolve":{"axis":{"x":"independent","y":"independent"}}},
{"width":446,"height":332,
 "layer":[
  {"data":{"name":"ell"},"transform":[{"filter":"datum.p==='B'"}],"mark":{"type":"line","interpolate":"cardinal-closed","color":"black","strokeWidth":1.8},
   "encoding":{"x":{"field":"x","type":"quantitative","scale":{"domain":[-36,36],"nice":false,"zero":false},"axis":null},"y":{"field":"y","type":"quantitative","scale":{"domain":[-5,5],"nice":false,"zero":false},"axis":null},"detail":{"field":"l"},"order":{"field":"i","type":"quantitative"}}},
  {"data":{"name":"core"},"transform":[{"filter":"datum.p==='B'"}],"mark":{"type":"line","interpolate":"cardinal-closed","color":"black","strokeWidth":12},
   "encoding":{"x":{"field":"x","type":"quantitative","scale":{"domain":[-36,36],"nice":false,"zero":false},"axis":{"orient":"bottom","values":[-36,-27,-18,-9,0,9,18,27,36],"labels":false,"title":null,"tickSize":{"condition":{"test":"datum.value % 18 === 0","value":-8},"value":-4},"tickWidth":{"condition":{"test":"datum.value % 18 === 0","value":5},"value":3}}},
    "y":{"field":"y","type":"quantitative","scale":{"domain":[-5,5],"nice":false,"zero":false},"axis":{"orient":"left","values":[-5,-3.75,-2.5,-1.25,0,1.25,2.5,3.75,5],"labels":false,"title":null,"tickSize":{"condition":{"test":"datum.value % 2.5 === 0","value":-8},"value":-4},"tickWidth":{"condition":{"test":"datum.value % 2.5 === 0","value":5},"value":3}}},
    "detail":{"field":"l"},"order":{"field":"i","type":"quantitative"}}},
  {"data":{"name":"lab"},"transform":[{"filter":"datum.p==='B'"}],"mark":{"type":"text","align":"left","baseline":"alphabetic","font":"Liberation Serif","fontSize":20,"color":"black"},
   "encoding":{"x":{"field":"x","type":"quantitative","scale":{"domain":[-36,36],"nice":false,"zero":false},"axis":{"orient":"top","values":[-36,-27,-18,-9,0,9,18,27,36],"labels":false,"title":null,"tickSize":{"condition":{"test":"datum.value % 18 === 0","value":-8},"value":-4},"tickWidth":{"condition":{"test":"datum.value % 18 === 0","value":5},"value":3}}},
    "y":{"field":"y","type":"quantitative","scale":{"domain":[-5,5],"nice":false,"zero":false},"axis":{"orient":"right","values":[-5,-3.75,-2.5,-1.25,0,1.25,2.5,3.75,5],"labels":false,"title":null,"tickSize":{"condition":{"test":"datum.value % 2.5 === 0","value":-8},"value":-4},"tickWidth":{"condition":{"test":"datum.value % 2.5 === 0","value":5},"value":3}}},
    "text":{"field":"t"}}}
 ],
 "resolve":{"axis":{"x":"independent","y":"independent"}}},
{"width":446,"height":332,
 "layer":[
  {"data":{"name":"poly"},"transform":[{"filter":"datum.p==='C'"}],"mark":{"type":"line","interpolate":"linear","color":"black","strokeWidth":1.8},
   "encoding":{"x":{"field":"x","type":"quantitative","scale":{"domain":[-10,10],"nice":false,"zero":false},"axis":null},"y":{"field":"y","type":"quantitative","scale":{"domain":[-4,4],"nice":false,"zero":false},"axis":null},"detail":{"field":"l"},"order":{"field":"i","type":"quantitative"}}},
  {"data":{"name":"core"},"transform":[{"filter":"datum.p==='C'"}],"mark":{"type":"line","interpolate":"cardinal-closed","color":"black","strokeWidth":12},
   "encoding":{"x":{"field":"x","type":"quantitative","scale":{"domain":[-10,10],"nice":false,"zero":false},"axis":{"orient":"bottom","values":[-10,-7.5,-5,-2.5,0,2.5,5,7.5,10],"labels":false,"title":null,"tickSize":{"condition":{"test":"datum.value % 5 === 0","value":-8},"value":-4},"tickWidth":{"condition":{"test":"datum.value % 5 === 0","value":5},"value":3}}},
    "y":{"field":"y","type":"quantitative","scale":{"domain":[-4,4],"nice":false,"zero":false},"axis":{"orient":"left","values":[-4,-3,-2,-1,0,1,2,3,4],"labelExpr":"datum.value % 2 === 0 ? replace(datum.label, '\u2212', '-') : ''","labelPadding":17,"title":"Damper force x 10\u00b3","titlePadding":8,"tickSize":{"condition":{"test":"datum.value % 2 === 0","value":-8},"value":-4},"tickWidth":{"condition":{"test":"datum.value % 2 === 0","value":5},"value":3}}},
    "detail":{"field":"l"},"order":{"field":"i","type":"quantitative"}}},
  {"data":{"name":"lab"},"transform":[{"filter":"datum.p==='C'"}],"mark":{"type":"text","align":"right","baseline":"alphabetic","font":"Liberation Serif","fontSize":20,"color":"black"},
   "encoding":{"x":{"field":"x","type":"quantitative","scale":{"domain":[-10,10],"nice":false,"zero":false},"axis":{"orient":"top","values":[-10,-7.5,-5,-2.5,0,2.5,5,7.5,10],"labels":false,"title":null,"tickSize":{"condition":{"test":"datum.value % 5 === 0","value":-8},"value":-4},"tickWidth":{"condition":{"test":"datum.value % 5 === 0","value":5},"value":3}}},
    "y":{"field":"y","type":"quantitative","scale":{"domain":[-4,4],"nice":false,"zero":false},"axis":{"orient":"right","values":[-4,-3,-2,-1,0,1,2,3,4],"labels":false,"title":null,"tickSize":{"condition":{"test":"datum.value % 2 === 0","value":-8},"value":-4},"tickWidth":{"condition":{"test":"datum.value % 2 === 0","value":5},"value":3}}},
    "text":{"field":"t"}}}
 ],
 "resolve":{"axis":{"x":"independent","y":"independent"}}},
{"width":446,"height":332,
 "layer":[
  {"data":{"name":"ell"},"transform":[{"filter":"datum.p==='D'"}],"mark":{"type":"line","interpolate":"cardinal-closed","color":"black","strokeWidth":1.8},
   "encoding":{"x":{"field":"x","type":"quantitative","scale":{"domain":[-36,36],"nice":false,"zero":false},"axis":null},"y":{"field":"y","type":"quantitative","scale":{"domain":[-4,4],"nice":false,"zero":false},"axis":null},"detail":{"field":"l"},"order":{"field":"i","type":"quantitative"}}},
  {"data":{"name":"poly"},"transform":[{"filter":"datum.p==='D'"}],"mark":{"type":"line","interpolate":"linear","color":"black","strokeWidth":1.8},
   "encoding":{"x":{"field":"x","type":"quantitative","scale":{"domain":[-36,36],"nice":false,"zero":false},"axis":null},"y":{"field":"y","type":"quantitative","scale":{"domain":[-4,4],"nice":false,"zero":false},"axis":null},"detail":{"field":"l"},"order":{"field":"i","type":"quantitative"}}},
  {"data":{"name":"core"},"transform":[{"filter":"datum.p==='D'"}],"mark":{"type":"line","interpolate":"cardinal-closed","color":"black","strokeWidth":12},
   "encoding":{"x":{"field":"x","type":"quantitative","scale":{"domain":[-36,36],"nice":false,"zero":false},"axis":{"orient":"bottom","values":[-36,-27,-18,-9,0,9,18,27,36],"labels":false,"title":null,"tickSize":{"condition":{"test":"datum.value % 18 === 0","value":-8},"value":-4},"tickWidth":{"condition":{"test":"datum.value % 18 === 0","value":5},"value":3}}},
    "y":{"field":"y","type":"quantitative","scale":{"domain":[-4,4],"nice":false,"zero":false},"axis":{"orient":"left","values":[-4,-3,-2,-1,0,1,2,3,4],"labels":false,"title":null,"tickSize":{"condition":{"test":"datum.value % 2 === 0","value":-8},"value":-4},"tickWidth":{"condition":{"test":"datum.value % 2 === 0","value":5},"value":3}}},
    "detail":{"field":"l"},"order":{"field":"i","type":"quantitative"}}},
  {"data":{"name":"lab"},"transform":[{"filter":"datum.p==='D'"}],"mark":{"type":"text","align":"left","baseline":"alphabetic","font":"Liberation Serif","fontSize":20,"color":"black"},
   "encoding":{"x":{"field":"x","type":"quantitative","scale":{"domain":[-36,36],"nice":false,"zero":false},"axis":{"orient":"top","values":[-36,-27,-18,-9,0,9,18,27,36],"labels":false,"title":null,"tickSize":{"condition":{"test":"datum.value % 18 === 0","value":-8},"value":-4},"tickWidth":{"condition":{"test":"datum.value % 18 === 0","value":5},"value":3}}},
    "y":{"field":"y","type":"quantitative","scale":{"domain":[-4,4],"nice":false,"zero":false},"axis":{"orient":"right","values":[-4,-3,-2,-1,0,1,2,3,4],"labels":false,"title":null,"tickSize":{"condition":{"test":"datum.value % 2 === 0","value":-8},"value":-4},"tickWidth":{"condition":{"test":"datum.value % 2 === 0","value":5},"value":3}}},
    "text":{"field":"t"}}}
 ],
 "resolve":{"axis":{"x":"independent","y":"independent"}}},
{"width":446,"height":332,
 "layer":[
  {"data":{"name":"poly"},"transform":[{"filter":"datum.p==='E'"}],"mark":{"type":"line","interpolate":"linear","color":"black","strokeWidth":1.8},
   "encoding":{"x":{"field":"x","type":"quantitative","scale":{"domain":[-10,10],"nice":false,"zero":false},"axis":null},"y":{"field":"y","type":"quantitative","scale":{"domain":[-4,4],"nice":false,"zero":false},"axis":null},"detail":{"field":"l"},"order":{"field":"i","type":"quantitative"}}},
  {"data":{"name":"core"},"transform":[{"filter":"datum.p==='E'"}],"mark":{"type":"line","interpolate":"cardinal-closed","color":"black","strokeWidth":12},
   "encoding":{"x":{"field":"x","type":"quantitative","scale":{"domain":[-10,10],"nice":false,"zero":false},"axis":{"orient":"bottom","values":[-10,-7.5,-5,-2.5,0,2.5,5,7.5,10],"labelExpr":"datum.value % 5 === 0 ? replace(datum.label, '\u2212', '-') : ''","labelPadding":15,"title":"Damper displacement (cm)","titleX":479,"titleAlign":"center","titlePadding":8,"tickSize":{"condition":{"test":"datum.value % 5 === 0","value":-8},"value":-4},"tickWidth":{"condition":{"test":"datum.value % 5 === 0","value":5},"value":3}}},
    "y":{"field":"y","type":"quantitative","scale":{"domain":[-4,4],"nice":false,"zero":false},"axis":{"orient":"left","values":[-4,-3,-2,-1,0,1,2,3,4],"labelExpr":"datum.value % 2 === 0 ? replace(datum.label, '\u2212', '-') : ''","labelPadding":17,"title":null,"tickSize":{"condition":{"test":"datum.value % 2 === 0","value":-8},"value":-4},"tickWidth":{"condition":{"test":"datum.value % 2 === 0","value":5},"value":3}}},
    "detail":{"field":"l"},"order":{"field":"i","type":"quantitative"}}},
  {"data":{"name":"lab"},"transform":[{"filter":"datum.p==='E'"}],"mark":{"type":"text","align":"right","baseline":"alphabetic","font":"Liberation Serif","fontSize":20,"color":"black"},
   "encoding":{"x":{"field":"x","type":"quantitative","scale":{"domain":[-10,10],"nice":false,"zero":false},"axis":{"orient":"top","values":[-10,-7.5,-5,-2.5,0,2.5,5,7.5,10],"labels":false,"title":null,"tickSize":{"condition":{"test":"datum.value % 5 === 0","value":-8},"value":-4},"tickWidth":{"condition":{"test":"datum.value % 5 === 0","value":5},"value":3}}},
    "y":{"field":"y","type":"quantitative","scale":{"domain":[-4,4],"nice":false,"zero":false},"axis":{"orient":"right","values":[-4,-3,-2,-1,0,1,2,3,4],"labels":false,"title":null,"tickSize":{"condition":{"test":"datum.value % 2 === 0","value":-8},"value":-4},"tickWidth":{"condition":{"test":"datum.value % 2 === 0","value":5},"value":3}}},
    "text":{"field":"t"}}}
 ],
 "resolve":{"axis":{"x":"independent","y":"independent"}}},
{"width":446,"height":332,
 "layer":[
  {"data":{"name":"ell"},"transform":[{"filter":"datum.p==='F'"}],"mark":{"type":"line","interpolate":"cardinal-closed","color":"black","strokeWidth":1.8},
   "encoding":{"x":{"field":"x","type":"quantitative","scale":{"domain":[-36,36],"nice":false,"zero":false},"axis":null},"y":{"field":"y","type":"quantitative","scale":{"domain":[-4,4],"nice":false,"zero":false},"axis":null},"detail":{"field":"l"},"order":{"field":"i","type":"quantitative"}}},
  {"data":{"name":"poly"},"transform":[{"filter":"datum.p==='F'"}],"mark":{"type":"line","interpolate":"linear","color":"black","strokeWidth":1.8},
   "encoding":{"x":{"field":"x","type":"quantitative","scale":{"domain":[-36,36],"nice":false,"zero":false},"axis":null},"y":{"field":"y","type":"quantitative","scale":{"domain":[-4,4],"nice":false,"zero":false},"axis":null},"detail":{"field":"l"},"order":{"field":"i","type":"quantitative"}}},
  {"data":{"name":"core"},"transform":[{"filter":"datum.p==='F'"}],"mark":{"type":"line","interpolate":"cardinal-closed","color":"black","strokeWidth":12},
   "encoding":{"x":{"field":"x","type":"quantitative","scale":{"domain":[-36,36],"nice":false,"zero":false},"axis":{"orient":"bottom","values":[-36,-27,-18,-9,0,9,18,27,36],"labelExpr":"datum.value % 18 === 0 ? replace(datum.label, '\u2212', '-') : ''","labelPadding":15,"title":null,"tickSize":{"condition":{"test":"datum.value % 18 === 0","value":-8},"value":-4},"tickWidth":{"condition":{"test":"datum.value % 18 === 0","value":5},"value":3}}},
    "y":{"field":"y","type":"quantitative","scale":{"domain":[-4,4],"nice":false,"zero":false},"axis":{"orient":"left","values":[-4,-3,-2,-1,0,1,2,3,4],"labels":false,"title":null,"tickSize":{"condition":{"test":"datum.value % 2 === 0","value":-8},"value":-4},"tickWidth":{"condition":{"test":"datum.value % 2 === 0","value":5},"value":3}}},
    "detail":{"field":"l"},"order":{"field":"i","type":"quantitative"}}},
  {"data":{"name":"lab"},"transform":[{"filter":"datum.p==='F'"}],"mark":{"type":"text","align":"left","baseline":"alphabetic","font":"Liberation Serif","fontSize":20,"color":"black"},
   "encoding":{"x":{"field":"x","type":"quantitative","scale":{"domain":[-36,36],"nice":false,"zero":false},"axis":{"orient":"top","values":[-36,-27,-18,-9,0,9,18,27,36],"labels":false,"title":null,"tickSize":{"condition":{"test":"datum.value % 18 === 0","value":-8},"value":-4},"tickWidth":{"condition":{"test":"datum.value % 18 === 0","value":5},"value":3}}},
    "y":{"field":"y","type":"quantitative","scale":{"domain":[-4,4],"nice":false,"zero":false},"axis":{"orient":"right","values":[-4,-3,-2,-1,0,1,2,3,4],"labels":false,"title":null,"tickSize":{"condition":{"test":"datum.value % 2 === 0","value":-8},"value":-4},"tickWidth":{"condition":{"test":"datum.value % 2 === 0","value":5},"value":3}}},
    "text":{"field":"t"}}}
 ],
 "resolve":{"axis":{"x":"independent","y":"independent"}}}
],
"config": {
 "view": {"stroke": "black", "strokeWidth": 4.5},
 "axis": {"domain": false, "grid": false, "tickColor": "black", "labelFont": "Liberation Sans", "labelFontSize": 21, "labelColor": "black", "labelFlush": false, "labelOverlap": false, "titleFont": "Liberation Serif", "titleFontSize": 20, "titleFontWeight": "normal", "titleColor": "black"}
}
}
